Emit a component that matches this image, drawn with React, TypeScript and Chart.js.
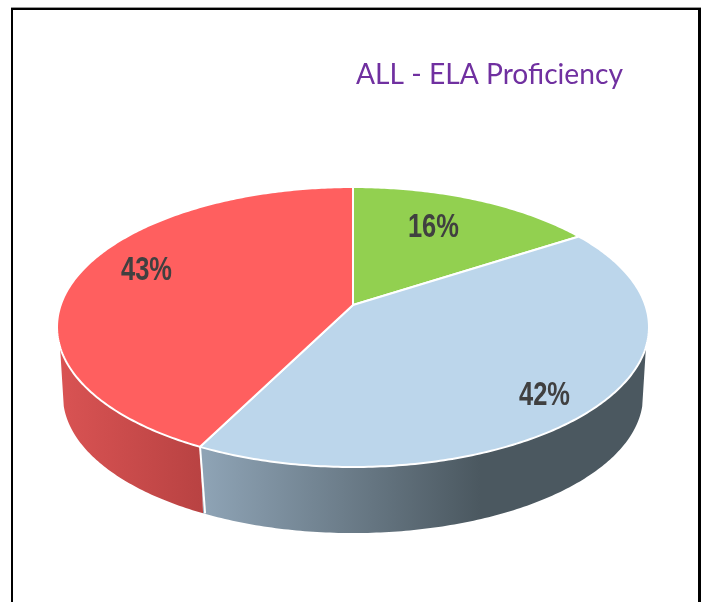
import React, { useEffect, useRef } from "react";
import { Chart, registerables } from "chart.js";

Chart.register(...registerables);

const categories = ["Proficient", "Approaching", "Not Proficient"];
const values = [16, 42, 43];
const sliceColors = ["#92D050", "#BCD6EB", "#FF5F5F"];
const titleText = "ALL - ELA Proficiency";

// Perspective of the tilted disc
const CX = 353;
const CY = 327;
const RY = 140;
const SHIFT = 22;
const PERSP = (2 * SHIFT) / (2 * RY);
const WIDTH = 292.3;
const FLOOR_CY = 396;
const FLOOR_SCALE = 0.979;
const FLOOR_X_SCALE = 0.98;
const TOP_U = -0.293;
const FLOOR_U = -0.23;

const project = (theta: number, r = 1, floor = false) => {
  const u = r * Math.cos(theta);
  const v = r * Math.sin(theta);
  const d = 1 + PERSP * u;
  const yy = (RY * u + SHIFT) / d;
  const xx = (WIDTH * v) / d;
  if (floor) return { x: CX + xx * FLOOR_X_SCALE, y: FLOOR_CY - yy * FLOOR_SCALE };
  return { x: CX + xx, y: CY - yy };
};

const trace = (ctx: CanvasRenderingContext2D, a: number, b: number, floor = false, first = false) => {
  const n = Math.max(2, Math.ceil(Math.abs(b - a) * 80));
  for (let i = 0; i <= n; i++) {
    const p = project(a + ((b - a) * i) / n, 1, floor);
    if (i === 0 && first) ctx.moveTo(p.x, p.y);
    else ctx.lineTo(p.x, p.y);
  }
};

const labelNudges = [
  [-11, 0],
  [22, 19],
  [-7, -13],
];

const pie3d = {
  id: "pie3d",
  beforeDatasetsDraw(chart: any) {
    const ctx: CanvasRenderingContext2D = chart.ctx;
    const arcs = chart.getDatasetMeta(0).data;
    const spans = arcs.map((a: any) => [a.startAngle + Math.PI / 2, a.endAngle + Math.PI / 2]);
    const topA = Math.acos(TOP_U);
    const topB = 2 * Math.PI - topA;
    const floorA = Math.acos(FLOOR_U);
    const floorB = 2 * Math.PI - floorA;

    // side walls
    const walls = [
      { i: 1, stops: [[205, "#8EA3B5"], [480, "#4B5860"], [650, "#4B5860"]] },
      { i: 2, stops: [[60, "#D95353"], [205, "#B84242"]] },
    ];
    walls.forEach(({ i, stops }: any) => {
      const [s, e] = spans[i];
      const ts = Math.max(s, topA);
      const te = Math.min(e, topB);
      const fs = s <= topA ? floorA : s;
      const fe = e >= topB ? floorB : e;
      ctx.beginPath();
      trace(ctx, ts, te, false, true);
      trace(ctx, fe, fs, true);
      ctx.closePath();
      const x0 = stops[0][0];
      const x1 = stops[stops.length - 1][0];
      const g = ctx.createLinearGradient(x0, 0, x1, 0);
      stops.forEach(([x, c]: any) => g.addColorStop((x - x0) / (x1 - x0), c));
      ctx.fillStyle = g;
      ctx.fill();
    });
    // divider on the wall
    const divide = spans[1][1];
    const pa = project(divide);
    const pb = project(divide, 1, true);
    ctx.strokeStyle = "#FFFFFF";
    ctx.lineWidth = 2;
    ctx.beginPath();
    ctx.moveTo(pa.x, pa.y);
    ctx.lineTo(pb.x + 2, pb.y);
    ctx.stroke();

    // top faces
    arcs.forEach((arc: any, i: number) => {
      const [s, e] = spans[i];
      const apex = project(0, 0);
      ctx.beginPath();
      ctx.moveTo(apex.x, apex.y);
      trace(ctx, s, e);
      ctx.closePath();
      ctx.fillStyle = arc.options.backgroundColor;
      ctx.fill();
      ctx.strokeStyle = "#FFFFFF";
      ctx.lineWidth = 2;
      ctx.lineJoin = "round";
      ctx.stroke();
    });

    // value labels
    ctx.fillStyle = "#404040";
    ctx.font = 'bold 34px "Liberation Sans"';
    ctx.textAlign = "center";
    ctx.textBaseline = "middle";
    arcs.forEach((_: any, i: number) => {
      const [s, e] = spans[i];
      const p = project((s + e) / 2, 0.72);
      ctx.fillText(`${values[i]}%`, p.x + labelNudges[i][0], p.y + labelNudges[i][1] + 1, 51);
    });
    return false;
  },
};

export default function App() {
  const ref = useRef<HTMLCanvasElement>(null);
  useEffect(() => {
    const chart = new Chart(ref.current!, {
      type: "pie",
      data: {
        labels: categories,
        datasets: [{ data: values, backgroundColor: sliceColors, borderColor: "#FFFFFF", borderWidth: 2 }],
      },
      options: {
        animation: false,
        responsive: false,
        layout: { padding: { left: 356, top: 58 } },
        plugins: {
          legend: { display: false },
          tooltip: { enabled: false },
          title: {
            display: true,
            text: titleText,
            align: "start",
            fullSize: false,
            color: "#7030A0",
            padding: 0,
            font: { family: "Lato", size: 28.2, weight: "normal" },
          },
        },
      },
      plugins: [pie3d],
    } as any);
    return () => chart.destroy();
  }, []);
  return (
    <div style={{ position: "fixed", left: 0, top: 0, width: 709, height: 602, overflow: "hidden", background: "#fff" }}>
      <div
        style={{
          position: "absolute",
          left: 11,
          top: 8,
          width: 690,
          height: 640,
          boxSizing: "border-box",
          borderStyle: "solid",
          borderColor: "#000",
          borderWidth: "2px 3px 3px 2px",
          boxShadow: "0 -1px 0 #999",
        }}
      />
      <canvas ref={ref} width={709} height={602} style={{ position: "absolute", left: 0, top: 0, display: "block" }} />
    </div>
  );
}
